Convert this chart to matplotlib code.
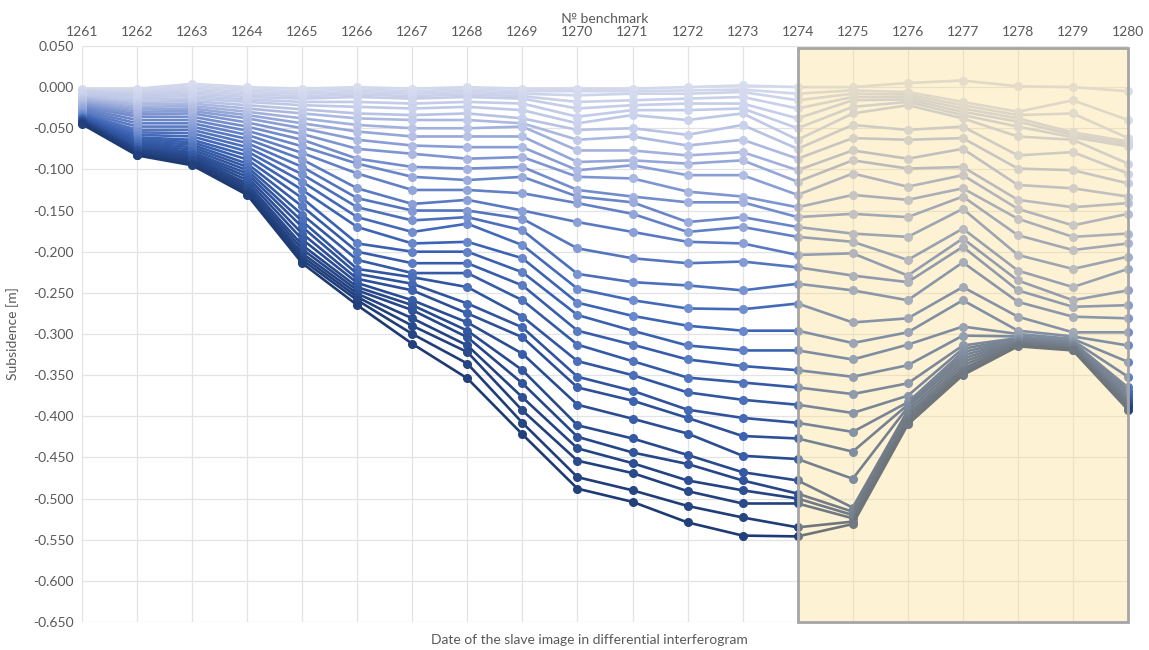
import numpy as np
import matplotlib.pyplot as plt
from matplotlib.colors import LinearSegmentedColormap
from matplotlib.patches import Rectangle
from matplotlib.ticker import FuncFormatter

plt.rcParams['font.family'] = ['Lato', 'DejaVu Sans']

benchmarks = list(range(1261, 1281))

# subsidence [m] at each benchmark, one value per slave image (shallow -> deep)
b1261 = [-0.002, -0.003, -0.004, -0.005, -0.006, -0.008, -0.010, -0.012, -0.014, -0.016, -0.018, -0.020,
         -0.022, -0.024, -0.026, -0.028, -0.030, -0.032, -0.033, -0.034, -0.035, -0.036, -0.037, -0.038,
         -0.038, -0.039, -0.040, -0.040, -0.041, -0.041, -0.042, -0.043, -0.044, -0.045]
b1262 = [-0.002, -0.004, -0.006, -0.008, -0.010, -0.012, -0.015, -0.018, -0.021, -0.024, -0.027, -0.030,
         -0.033, -0.036, -0.040, -0.044, -0.048, -0.052, -0.055, -0.058, -0.061, -0.063, -0.065, -0.067,
         -0.069, -0.071, -0.073, -0.075, -0.076, -0.077, -0.078, -0.080, -0.082, -0.083]
b1263 = [0.004, 0.001, -0.002, -0.005, -0.008, -0.011, -0.014, -0.017, -0.020, -0.023, -0.026, -0.029,
         -0.032, -0.036, -0.040, -0.044, -0.048, -0.052, -0.056, -0.060, -0.064, -0.067, -0.070, -0.073,
         -0.076, -0.079, -0.081, -0.083, -0.085, -0.087, -0.089, -0.091, -0.093, -0.095]
b1264 = [0.000, -0.003, -0.006, -0.009, -0.012, -0.015, -0.018, -0.022, -0.026, -0.030, -0.034, -0.038,
         -0.043, -0.048, -0.053, -0.058, -0.063, -0.068, -0.073, -0.078, -0.083, -0.088, -0.093, -0.097,
         -0.101, -0.105, -0.109, -0.113, -0.117, -0.120, -0.123, -0.126, -0.129, -0.131]
b1265 = [-0.002, -0.005, -0.008, -0.011, -0.014, -0.018, -0.022, -0.027, -0.032, -0.038, -0.044, -0.050,
         -0.057, -0.064, -0.072, -0.080, -0.088, -0.097, -0.106, -0.115, -0.125, -0.135, -0.145, -0.155,
         -0.163, -0.170, -0.178, -0.185, -0.192, -0.197, -0.202, -0.206, -0.210, -0.214]
b1266 = [0.000, -0.003, -0.006, -0.009, -0.012, -0.018, -0.024, -0.032, -0.038, -0.046, -0.054, -0.064,
         -0.075, -0.087, -0.093, -0.105, -0.123, -0.135, -0.146, -0.158, -0.170, -0.190, -0.200, -0.210,
         -0.221, -0.227, -0.233, -0.238, -0.243, -0.247, -0.251, -0.255, -0.259, -0.265]
b1267 = [-0.002, -0.005, -0.008, -0.011, -0.014, -0.020, -0.026, -0.034, -0.040, -0.050, -0.060, -0.071,
         -0.081, -0.097, -0.109, -0.125, -0.142, -0.150, -0.162, -0.176, -0.190, -0.200, -0.214, -0.226,
         -0.231, -0.239, -0.247, -0.259, -0.265, -0.271, -0.281, -0.290, -0.300, -0.312]
b1268 = [0.000, -0.003, -0.006, -0.009, -0.012, -0.018, -0.024, -0.032, -0.040, -0.050, -0.060, -0.073,
         -0.087, -0.099, -0.113, -0.125, -0.137, -0.150, -0.158, -0.166, -0.188, -0.200, -0.214, -0.226,
         -0.243, -0.263, -0.275, -0.286, -0.296, -0.304, -0.314, -0.322, -0.336, -0.354]
b1269 = [-0.002, -0.005, -0.008, -0.011, -0.014, -0.020, -0.028, -0.038, -0.044, -0.048, -0.060, -0.073,
         -0.085, -0.097, -0.109, -0.129, -0.150, -0.160, -0.174, -0.192, -0.208, -0.225, -0.241, -0.259,
         -0.279, -0.292, -0.304, -0.324, -0.344, -0.360, -0.377, -0.393, -0.408, -0.422]
b1270 = [-0.002, -0.005, -0.010, -0.018, -0.026, -0.036, -0.044, -0.052, -0.064, -0.077, -0.091, -0.101,
         -0.109, -0.125, -0.133, -0.141, -0.164, -0.196, -0.227, -0.245, -0.262, -0.277, -0.296, -0.313,
         -0.333, -0.352, -0.365, -0.386, -0.411, -0.425, -0.439, -0.454, -0.474, -0.488]
b1271 = [-0.002, -0.005, -0.008, -0.016, -0.022, -0.028, -0.034, -0.050, -0.060, -0.077, -0.089, -0.095,
         -0.111, -0.133, -0.140, -0.154, -0.176, -0.208, -0.237, -0.259, -0.278, -0.296, -0.313, -0.333,
         -0.350, -0.369, -0.381, -0.403, -0.427, -0.444, -0.457, -0.469, -0.490, -0.504]
b1272 = [0.000, -0.004, -0.008, -0.014, -0.020, -0.028, -0.040, -0.058, -0.071, -0.083, -0.093, -0.107,
         -0.127, -0.140, -0.164, -0.176, -0.188, -0.214, -0.241, -0.269, -0.290, -0.314, -0.331, -0.353,
         -0.371, -0.392, -0.402, -0.421, -0.447, -0.458, -0.478, -0.491, -0.509, -0.529]
b1273 = [0.002, -0.003, -0.006, -0.012, -0.020, -0.026, -0.032, -0.046, -0.064, -0.079, -0.089, -0.107,
         -0.133, -0.140, -0.158, -0.170, -0.190, -0.212, -0.247, -0.270, -0.296, -0.320, -0.339, -0.359,
         -0.380, -0.402, -0.424, -0.448, -0.468, -0.478, -0.490, -0.506, -0.523, -0.545]
b1274 = [0.000, -0.008, -0.016, -0.026, -0.038, -0.050, -0.064, -0.075, -0.087, -0.101, -0.115, -0.131,
         -0.146, -0.158, -0.170, -0.182, -0.204, -0.219, -0.239, -0.263, -0.296, -0.320, -0.344, -0.365,
         -0.386, -0.408, -0.427, -0.452, -0.478, -0.494, -0.500, -0.506, -0.535, -0.546]
b1275 = [0.000, -0.004, -0.008, -0.012, -0.016, -0.024, -0.032, -0.046, -0.062, -0.077, -0.089, -0.105,
         -0.131, -0.154, -0.178, -0.188, -0.202, -0.229, -0.247, -0.286, -0.311, -0.331, -0.352, -0.373,
         -0.396, -0.419, -0.443, -0.476, -0.511, -0.516, -0.520, -0.524, -0.528, -0.531]
b1276 = [0.005, -0.006, -0.009, -0.012, -0.015, -0.018, -0.022, -0.052, -0.064, -0.087, -0.099, -0.121,
         -0.137, -0.158, -0.182, -0.210, -0.229, -0.237, -0.259, -0.281, -0.298, -0.313, -0.338, -0.360,
         -0.375, -0.383, -0.386, -0.389, -0.393, -0.397, -0.400, -0.403, -0.406, -0.410]
b1277 = [0.008, -0.018, -0.022, -0.026, -0.030, -0.034, -0.038, -0.048, -0.062, -0.075, -0.097, -0.107,
         -0.123, -0.133, -0.148, -0.172, -0.184, -0.194, -0.213, -0.243, -0.259, -0.291, -0.302, -0.314,
         -0.318, -0.322, -0.326, -0.330, -0.334, -0.338, -0.342, -0.345, -0.348, -0.350]
b1278 = [0.001, -0.030, -0.034, -0.038, -0.042, -0.048, -0.060, -0.083, -0.099, -0.119, -0.137, -0.148,
         -0.160, -0.180, -0.204, -0.223, -0.235, -0.247, -0.261, -0.279, -0.296, -0.300, -0.303, -0.305,
         -0.306, -0.307, -0.308, -0.309, -0.310, -0.311, -0.312, -0.313, -0.314, -0.315]
b1279 = [0.000, -0.016, -0.032, -0.055, -0.058, -0.061, -0.064, -0.079, -0.101, -0.123, -0.146, -0.168,
         -0.182, -0.198, -0.221, -0.243, -0.259, -0.267, -0.279, -0.298, -0.303, -0.306, -0.308, -0.310,
         -0.311, -0.312, -0.313, -0.314, -0.315, -0.316, -0.317, -0.318, -0.319, -0.320]
b1280 = [-0.005, -0.040, -0.062, -0.066, -0.069, -0.072, -0.093, -0.105, -0.117, -0.133, -0.141, -0.154,
         -0.178, -0.190, -0.206, -0.221, -0.247, -0.265, -0.281, -0.298, -0.314, -0.334, -0.352, -0.365,
         -0.369, -0.373, -0.377, -0.380, -0.382, -0.384, -0.385, -0.387, -0.389, -0.392]

columns = [b1261, b1262, b1263, b1264, b1265, b1266, b1267, b1268, b1269, b1270,
           b1271, b1272, b1273, b1274, b1275, b1276, b1277, b1278, b1279, b1280]
series = np.array(columns).T  # rows = slave images

highlight = (1274, 1280)

line_cmap = LinearSegmentedColormap.from_list(
    'subs', ['#D3D9EC', '#BCC6E6', '#6F8ACB', '#3D65B5', '#2B4E95', '#1E3A72'])
marker_cmap = LinearSegmentedColormap.from_list(
    'subs_m', ['#D9DEEF', '#CBD2EC', '#A3B1DE', '#6A89CE', '#3A61AE', '#22407C'])

fig = plt.figure(figsize=(11.49, 6.5), dpi=100)
ax = fig.add_axes([0.0714, 0.0431, 0.9103, 0.8862])

n = len(series)
for i, row in enumerate(series):
    t = i / (n - 1)
    ax.plot(benchmarks, row, color=line_cmap(t), lw=1.9, marker='o', ms=5.5,
            mfc=marker_cmap(t), mec=marker_cmap(t), zorder=2, clip_on=False)

# shaded block over the last benchmarks
ax.add_patch(Rectangle((highlight[0], -0.65), highlight[1] - highlight[0], 0.697,
                       facecolor='#FCDD8A', alpha=0.36, edgecolor='none', zorder=3))
ax.add_patch(Rectangle((highlight[0], -0.65), highlight[1] - highlight[0], 0.697,
                       facecolor='none', edgecolor='#A5A5A5', lw=2, zorder=4, clip_on=False))

ax.set_xlim(1261, 1280)
ax.set_ylim(-0.65, 0.05)
ax.set_xticks(benchmarks)
ax.set_yticks(np.arange(-0.65, 0.0501, 0.05))
ax.yaxis.set_major_formatter(FuncFormatter(lambda v, p: f'{v:.3f}'))
ax.xaxis.tick_top()
ax.xaxis.set_label_position('top')
ax.tick_params(length=0, labelsize=10, labelcolor='#595959', pad=6)
ax.grid(True, color='#E3E3E3', lw=0.9, zorder=0)
ax.set_axisbelow(True)
for s in ax.spines.values():
    s.set_visible(False)

ax.set_xlabel('№ benchmark', fontsize=10, color='#595959', labelpad=2)
ax.set_ylabel('Subsidence [m]', fontsize=10, color='#595959', labelpad=10)
fig.text(0.513, 0.006, 'Date of the slave image in differential interferogram',
         ha='center', va='bottom', fontsize=10, color='#595959')

fig.savefig('out.png', dpi=100)
